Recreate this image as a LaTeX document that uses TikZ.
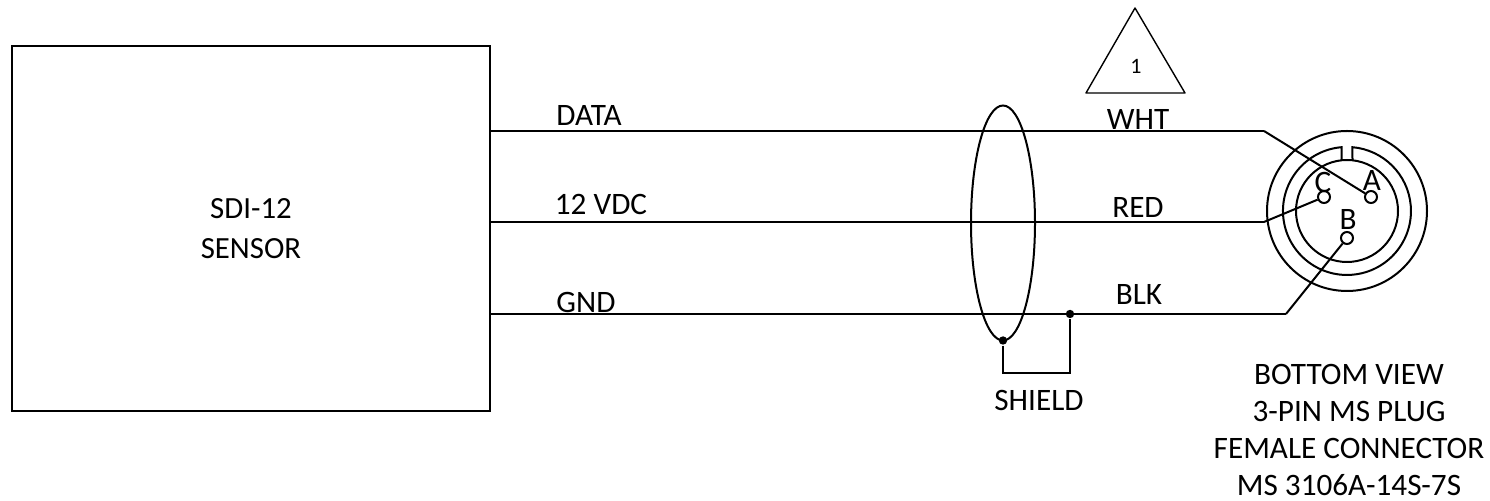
\documentclass[tikz,border=0pt]{standalone}
\usepackage{fontspec}
\setmainfont{Carlito}
\usetikzlibrary{positioning, shapes.geometric}

\begin{document}
\begin{tikzpicture}[
        x=.5pt, y=-.5pt,
        line width=1pt,
        txt/.style = {inner sep=0pt, font=\fontsize{15.6}{18.6}\selectfont},
        box/.style = {rectangle, draw, minimum width=239pt, minimum height=182.5pt, align=center, font=\fontsize{15.4}{20}\selectfont},
        ring/.style = {circle, draw, inner sep=0pt},
        pin/.style = {circle, draw, fill=white, inner sep=0pt, minimum size=6pt},
        joint/.style = {circle, fill=black, inner sep=0pt, minimum size=4.2pt}
    ]
        \useasboundingbox (0,0) rectangle (1490,501);

        % Sensor
        \node[box] (sensor) at (251,228.5) {SDI-12\\SENSOR};
        \coordinate (data) at (490,131);
        \coordinate (vdc) at (490,222);
        \coordinate (gnd) at (490,314);

        % Connector
        \node[ring, minimum size=80pt] (outer) at (1347,211) {};
        \node[ring, minimum size=51pt] (inner) at (1347,211) {};
        \draw (1341.5,160.3) -- (1341.5,147.2) arc[start angle=94.9, end angle=445.1, radius=32pt] -- (1352.5,160.3);
        \coordinate (whtbend) at (1264,131);
        \coordinate (redbend) at (1264,222);
        \coordinate (blkbend) at (1286,314);

        % Wires
        \draw (data) -- (whtbend);
        \draw (vdc) -- (redbend);
        \draw (gnd) -- (blkbend);
        \node[pin] (pina) at (1371,197) {};
        \node[pin] (pinb) at (1347,238) {};
        \node[pin] (pinc) at (1324,197) {};
        \draw (whtbend) -- (pina);
        \draw (redbend) -- (pinc);
        \draw (blkbend) -- (pinb);

        % Shield
        \node[ellipse, draw, inner sep=0pt, outer sep=0pt, minimum width=32pt, minimum height=117.5pt] (cable) at (1003,223) {};
        \node[joint] (shieldl) at (cable.south) {};
        \node[joint] (shieldr) at (1070,314) {};
        \coordinate (shieldc) at (1037,373);
        \draw (shieldl) |- (shieldc) -| (shieldr);

        % Triangle
        \coordinate (tria) at (1135,8);
        \coordinate (trib) at (1086,93);
        \coordinate (tric) at (1185,93);
        \draw[line width=.7pt, line join=round] (tria) -- (trib) -- (tric) -- cycle;
        \node[txt, font=\fontsize{11}{12}\selectfont] (note) at (1136,66) {1};

        % Labels
        \node[txt] (ldata) at (589,115) {DATA};
        \node[txt] (lvdc) at (601,204) {12 VDC};
        \node[txt] (lgnd) at (586,302) {GND};
        \node[txt] (lwht) at (1138,119) {WHT};
        \node[txt] (lred) at (1138,207) {RED};
        \node[txt] (lblk) at (1139,294) {BLK};
        \node[txt] (lshield) at (1039,400) {SHIELD};
        \node[txt] (la) at (1372,180) {A};
        \node[txt] (lb) at (1348,219) {B};
        \node[txt] (lc) at (1323,182) {C};
        \node[txt, align=center] (lview) at (1349,430) {BOTTOM VIEW\\3-PIN MS PLUG\\FEMALE CONNECTOR\\MS 3106A-14S-7S};
    \end{tikzpicture}
\end{document}
